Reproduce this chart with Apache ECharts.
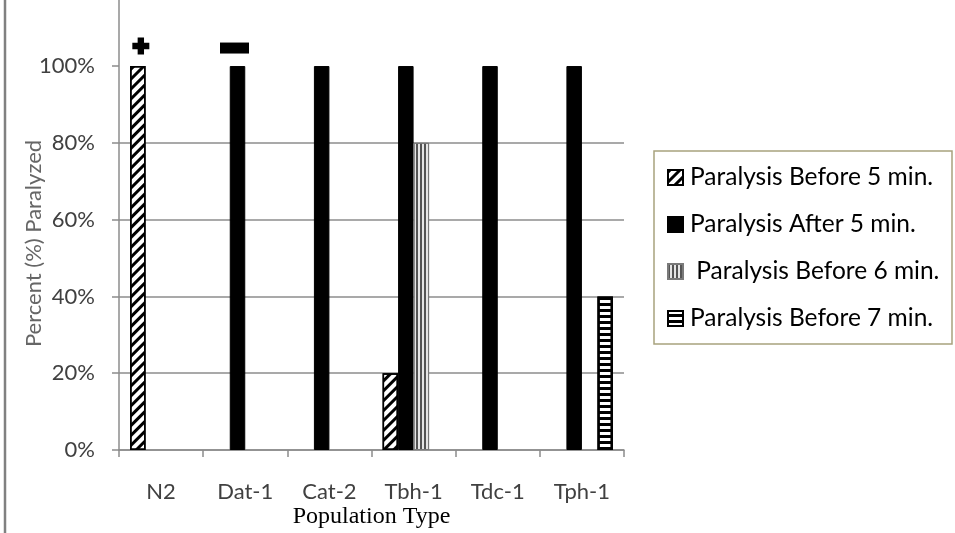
<!DOCTYPE html>
<html>
<head>
<meta charset="utf-8">
<script src="https://cdn.jsdelivr.net/npm/echarts@6/dist/echarts.min.js"></script>
<style>
html,body{margin:0;padding:0;background:#fff;}
#chart{width:955px;height:533px;}
</style>
</head>
<body>
<div id="chart"></div>
<script>
var categories = ['N2', 'Dat-1', 'Cat-2', 'Tbh-1', 'Tdc-1', 'Tph-1'];
var seriesNames = ['Paralysis Before 5 min.', 'Paralysis After 5 min.', 'Paralysis Before 6 min.', 'Paralysis Before 7 min.'];
var before5 = [100, 0, 0, 20, 0, 0];
var after5 = [0, 100, 100, 100, 100, 100];
var before6 = [0, 0, 0, 80, 0, 0];
var before7 = [0, 0, 0, 0, 0, 40];
var yTicks = [0, 20, 40, 60, 80, 100];
var xTitle = 'Population Type';
var yTitle = 'Percent (%) Paralyzed';

function clean(arr){ return arr.map(function(v){ return v === 0 ? null : v; }); }

var chart = echarts.init(document.getElementById('chart'), null, {renderer:'canvas'});
var labelFont = 'Lato';
var barW = 15.5;

var option = {
  backgroundColor: '#fff',
  animation: false,
  grid: { left: 119, right: 331, top: 0, bottom: 83, containLabel: false, outerBoundsMode: 'none' },
  xAxis: {
    type: 'category',
    data: categories,
    name: xTitle,
    nameLocation: 'middle',
    nameGap: 55,
    nameMoveOverlap: false,
    nameTextStyle: { fontFamily: 'Liberation Serif', fontSize: 24, color: '#000' },
    axisLine: { lineStyle: { color: '#8c8c8c', width: 1.5 } },
    axisTick: { show: true, length: 7, lineStyle: { color: '#8c8c8c', width: 1.5 } },
    axisLabel: { margin: 31, fontFamily: labelFont, fontSize: 22, color: '#404040' },
    splitLine: { show: false }
  },
  yAxis: {
    type: 'value',
    min: 0, max: 117.2, interval: 20,
    name: yTitle,
    nameLocation: 'middle',
    nameGap: 74,
    nameMoveOverlap: false,
    nameRotate: 90,
    nameTextStyle: { fontFamily: labelFont, fontSize: 22, color: '#666', padding: [0, 37, 0, 0] },
    axisLine: { show: true, lineStyle: { color: '#8c8c8c', width: 1.5 } },
    axisTick: { show: true, length: 7, customValues: yTicks, lineStyle: { color: '#8c8c8c', width: 1.5 } },
    axisLabel: { margin: 24, fontFamily: labelFont, fontSize: 22, color: '#404040',
      formatter: function(v){ return yTicks.indexOf(v) >= 0 ? v + '%' : ''; } },
    splitLine: { show: true, showMaxLine: false, lineStyle: { color: '#8c8c8c', width: 1.5 } }
  },
  legend: {
    orient: 'vertical',
    left: 667, top: 165, padding: 0,
    itemWidth: 15, itemHeight: 15, itemGap: 22,
    icon: 'rect',
    textStyle: { fontFamily: labelFont, fontSize: 24.5, color: '#000', lineHeight: 24, padding: [0,0,0,2] },
    formatter: function(n){ return n === seriesNames[2] ? ' ' + n : n; },
    data: seriesNames
  },
  graphic: [
    { type: 'line', shape: { x1: 5, y1: 0, x2: 5, y2: 533 }, style: { stroke: '#808080', lineWidth: 2.5 } },
    { type: 'rect', shape: { x: 654, y: 151, width: 298, height: 193 }, style: { fill: 'none', stroke: '#a8a27e', lineWidth: 1.5 }, z: -1 }
  ],
  series: [
    {
      name: seriesNames[0], type: 'bar', data: clean(before5), barWidth: barW, barGap: '0%',
      itemStyle: { color: '#fff', borderColor: '#000', borderWidth: 1.5,
        decal: { symbol: 'rect', symbolSize: 1, color: '#000', dashArrayX: [1, 0], dashArrayY: [2.6, 3.2], rotation: -Math.PI / 4 } },
      markPoint: {
        symbol: 'path://M5,0H11V5H16V11H11V16H5V11H0V5H5Z',
        symbolSize: [17, 17],
        label: { show: false },
        itemStyle: { color: '#000', borderWidth: 0, decal: 'none' },
        data: [{ coord: [categories[0], before5[0]], symbolOffset: [3, -20] }]
      }
    },
    {
      name: seriesNames[1], type: 'bar', data: clean(after5), barWidth: barW, barGap: '0%',
      itemStyle: { color: '#000', borderColor: '#000', borderWidth: 1 },
      markPoint: {
        symbol: 'rect',
        symbolSize: [29, 11],
        label: { show: false },
        itemStyle: { color: '#000' },
        data: [{ coord: [categories[1], after5[1]], symbolOffset: [-3, -18] }]
      }
    },
    {
      name: seriesNames[2], type: 'bar', data: clean(before6), barWidth: barW, barGap: '0%',
      itemStyle: { color: '#e6e6e6', borderColor: '#7a7a7a', borderWidth: 1,
        decal: { symbol: 'rect', symbolSize: 1, color: '#555', dashArrayX: [1.2, 1.8], dashArrayY: [1, 0] } }
    },
    {
      name: seriesNames[3], type: 'bar', data: clean(before7), barWidth: barW, barGap: '0%',
      itemStyle: { color: '#000', borderColor: '#000', borderWidth: 2.5,
        decal: { symbol: 'rect', symbolSize: 1, color: '#fff', dashArrayX: [1, 0], dashArrayY: [2.4, 2.6] } }
    }
  ]
};
chart.setOption(option);
</script>
</body>
</html>
